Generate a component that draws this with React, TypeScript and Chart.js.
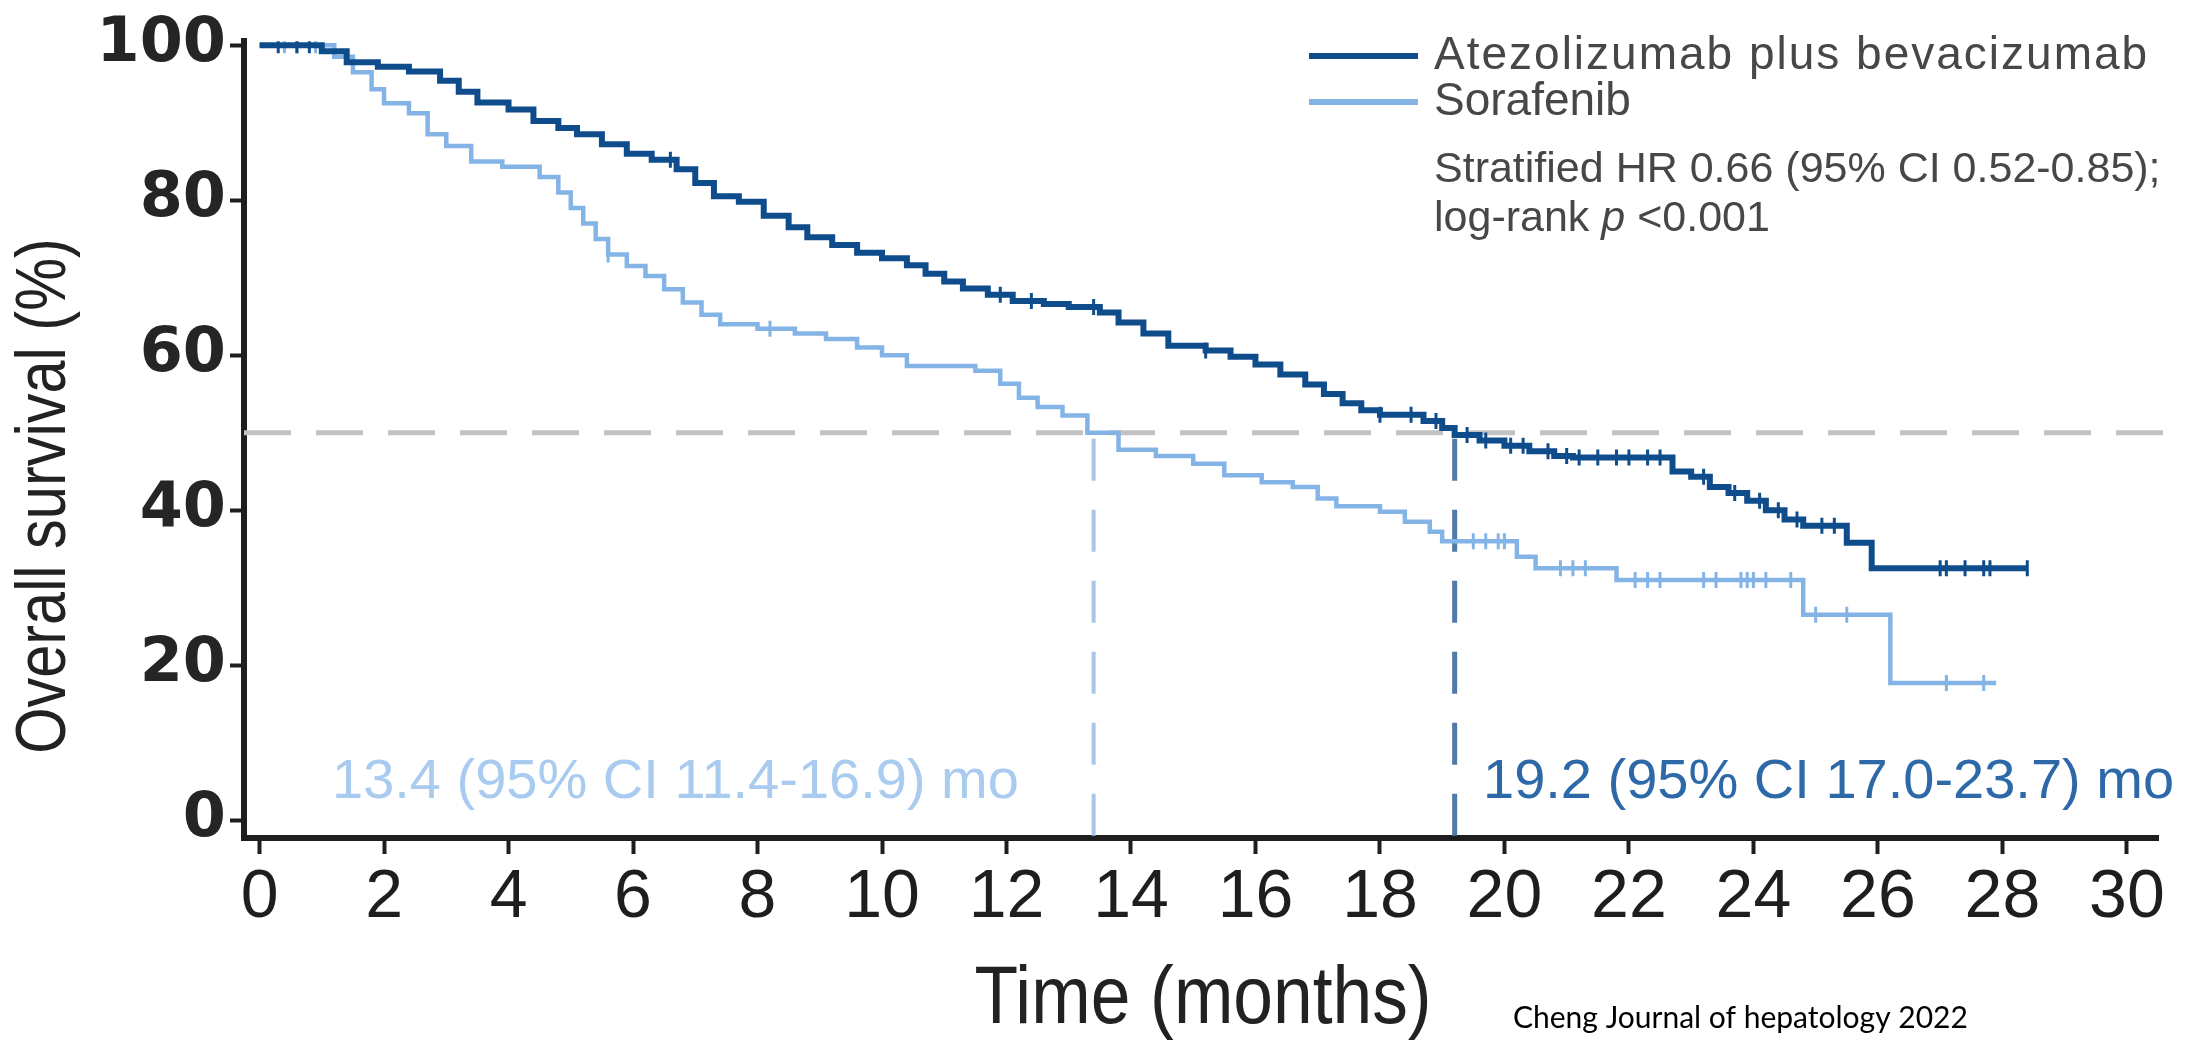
import React, { useEffect, useRef } from "react";
import { Chart, registerables } from "chart.js";

Chart.register(...registerables);

// ---------- data ----------
const xTickValues = [0, 2, 4, 6, 8, 10, 12, 14, 16, 18, 20, 22, 24, 26, 28, 30];
const yTickValues = [0, 20, 40, 60, 80, 100];

const seriesNames = ["Atezolizumab plus bevacizumab", "Sorafenib"];

// Kaplan–Meier step points (time in months, survival in % from that time on)
const atezoTime = [0, 1.0, 1.4, 1.9, 2.4, 2.9, 3.2, 3.5, 4.0, 4.4, 4.8, 5.1, 5.5, 5.9, 6.3, 6.7, 7.0, 7.3, 7.7, 8.1, 8.5, 8.8, 9.2, 9.6, 10.0, 10.4, 10.7, 11.0, 11.3, 11.7, 12.1, 12.6, 13.0, 13.5, 13.8, 14.2, 14.6, 15.2, 15.6, 16.0, 16.4, 16.8, 17.1, 17.4, 17.7, 18.0, 18.7, 19.0, 19.2, 19.6, 20.0, 20.4, 20.8, 21.1, 22.7, 23.0, 23.3, 23.6, 23.9, 24.2, 24.5, 24.8, 25.5, 25.9, 28.4];
const atezoOS = [100, 99.2, 97.8, 97.2, 96.6, 95.4, 94.0, 92.6, 91.7, 90.2, 89.3, 88.5, 87.2, 86.0, 85.2, 84.0, 82.2, 80.5, 79.8, 78.0, 76.5, 75.2, 74.2, 73.2, 72.5, 71.6, 70.5, 69.5, 68.6, 67.8, 67.0, 66.6, 66.2, 65.5, 64.2, 62.8, 61.2, 60.6, 59.8, 58.8, 57.5, 56.2, 55.0, 53.8, 52.9, 52.3, 51.5, 50.6, 49.7, 49.0, 48.3, 47.6, 47.0, 46.8, 45.0, 44.3, 43.0, 42.2, 41.2, 40.0, 38.8, 38.0, 35.8, 32.5, 32.5];

const soraTime = [0, 1.2, 1.5, 1.8, 2.0, 2.4, 2.7, 3.0, 3.4, 3.9, 4.5, 4.8, 5.0, 5.2, 5.4, 5.6, 5.9, 6.2, 6.5, 6.8, 7.1, 7.4, 8.0, 8.6, 9.1, 9.6, 10.0, 10.4, 11.5, 11.9, 12.2, 12.5, 12.9, 13.3, 13.8, 14.4, 15.0, 15.5, 16.1, 16.6, 17.0, 17.3, 18.0, 18.4, 18.8, 19.0, 20.2, 20.5, 21.8, 24.8, 26.2, 27.9];
const soraOS = [100, 98.5, 96.5, 94.3, 92.5, 91.2, 88.5, 87.0, 85.0, 84.3, 83.0, 81.0, 79.0, 77.0, 75.0, 73.0, 71.5, 70.2, 68.5, 66.8, 65.2, 64.0, 63.4, 62.8, 62.1, 61.0, 60.0, 58.6, 58.0, 56.3, 54.5, 53.3, 52.2, 50.0, 47.8, 47.0, 46.0, 44.5, 43.6, 43.0, 41.5, 40.5, 39.8, 38.5, 37.2, 36.0, 34.0, 32.5, 31.0, 26.5, 17.7, 17.7];

// censoring times (months)
const atezoCensor = [0.3, 0.6, 0.8, 6.6, 11.9, 12.4, 13.4, 15.2, 18.0, 18.5, 18.9, 19.4, 19.7, 20.1, 20.3, 20.7, 21.0, 21.2, 21.5, 21.8, 22.0, 22.3, 22.5, 23.2, 23.7, 24.1, 24.4, 24.7, 25.1, 25.3, 27.0, 27.1, 27.4, 27.7, 27.8, 28.4];
const soraCensor = [0.4, 0.6, 0.9, 5.6, 8.2, 19.5, 19.7, 19.9, 20.0, 20.9, 21.1, 21.3, 22.1, 22.3, 22.5, 23.2, 23.4, 23.8, 23.9, 24.0, 24.2, 24.6, 25.0, 25.5, 27.1, 27.7];

// medians
const medianOS = [13.4, 19.2];
const medianLabels = ["13.4 (95% CI 11.4-16.9) mo", "19.2 (95% CI 17.0-23.7) mo"];
const statsText = "Stratified HR 0.66 (95% CI 0.52-0.85);";
const xTitle = "Time (months)";
const yTitle = "Overall survival (%)";
const citation = "Cheng Journal of hepatology 2022";

// ---------- styles ----------
const DARK = "#0f4c8c";
const LIGHT = "#84b4e6";
const AXIS = "#1e1e1e";
const SANS = '"Liberation Sans", Arial, sans-serif';

function survivalAt(times: number[], surv: number[], t: number) {
  let v = surv[0];
  for (let i = 0; i < times.length; i++) if (times[i] <= t) v = surv[i];
  return v;
}

const pairs = (xs: number[], ys: number[]) => xs.map((x, i) => ({ x, y: ys[i] }));

const overlay = {
  id: "overlay",
  beforeDatasetsDraw(chart: any) {
    const { ctx, scales } = chart;
    const x = scales.x, y = scales.y;
    ctx.save();
    ctx.lineWidth = 5;
    ctx.setLineDash([47, 25]);
    ctx.strokeStyle = "#c2c2c2";
    ctx.beginPath();
    ctx.moveTo(x.getPixelForValue(x.min), y.getPixelForValue(50));
    ctx.lineTo(x.getPixelForValue(30.75), y.getPixelForValue(50));
    ctx.stroke();
    const cols = ["#a9c6ea", "#507aa8"];
    const widths = [4, 5];
    ctx.setLineDash([42, 29]);
    medianOS.forEach((m, i) => {
      ctx.strokeStyle = cols[i];
      ctx.lineWidth = widths[i];
      ctx.beginPath();
      ctx.moveTo(x.getPixelForValue(m), y.getPixelForValue(50) + 6);
      ctx.lineTo(x.getPixelForValue(m), y.getPixelForValue(y.min));
      ctx.stroke();
    });
    ctx.restore();
  },
  afterDraw(chart: any) {
    const { ctx } = chart;
    ctx.save();
    // legend
    const lx0 = 1309, lx1 = 1418, tx = 1434;
    ctx.lineWidth = 6;
    ctx.strokeStyle = DARK;
    ctx.beginPath(); ctx.moveTo(lx0, 56); ctx.lineTo(lx1, 56); ctx.stroke();
    ctx.strokeStyle = LIGHT;
    ctx.beginPath(); ctx.moveTo(lx0, 102); ctx.lineTo(lx1, 102); ctx.stroke();
    ctx.fillStyle = "#474747";
    ctx.textBaseline = "middle";
    ctx.textAlign = "left";
    ctx.font = `46px ${SANS}`;
    (ctx as any).letterSpacing = "2px";
    ctx.fillText(seriesNames[0], tx, 56);
    (ctx as any).letterSpacing = "0px";
    ctx.fillText(seriesNames[1], tx, 102);
    ctx.font = `43px ${SANS}`;
    ctx.fillText(statsText, tx, 170);
    let cx = tx;
    const p1 = "log-rank ";
    ctx.fillText(p1, cx, 219);
    cx += ctx.measureText(p1).width;
    ctx.font = `italic 43px ${SANS}`;
    ctx.fillText("p", cx, 219);
    cx += ctx.measureText("p ").width;
    ctx.font = `43px ${SANS}`;
    ctx.fillText("<0.001", cx, 219);

    // median labels
    ctx.font = `56px ${SANS}`;
    ctx.fillStyle = "#a9cbef";
    ctx.fillText(medianLabels[0], 332, 783);
    ctx.fillStyle = "#2d69a8";
    ctx.fillText(medianLabels[1], 1483, 783);

    // axis titles (condensed)
    ctx.fillStyle = "#222";
    ctx.textAlign = "center";
    ctx.save();
    ctx.translate(46, 496);
    ctx.rotate(-Math.PI / 2);
    ctx.scale(0.85, 1);
    ctx.font = `70px ${SANS}`;
    ctx.fillText(yTitle, 0, 0);
    ctx.restore();

    ctx.save();
    ctx.translate(1203, 1000);
    ctx.scale(0.87, 1);
    ctx.font = `82px ${SANS}`;
    ctx.fillText(xTitle, 0, 0);
    ctx.restore();

    // citation
    ctx.textAlign = "left";
    ctx.font = `30px Lato, "Open Sans", sans-serif`;
    ctx.fillStyle = "#000";
    ctx.fillText(citation, 1513, 1018);
    ctx.restore();
  },
};

export default function App() {
  const ref = useRef<HTMLCanvasElement | null>(null);
  useEffect(() => {
    if (!ref.current) return;
    const chart = new Chart(ref.current, {
      type: "line",
      data: {
        datasets: [
          {
            label: seriesNames[0],
            data: pairs(atezoTime, atezoOS),
            borderColor: DARK,
            backgroundColor: DARK,
            borderWidth: 6,
            stepped: "before",
            pointRadius: 0,
            fill: false,
          },
          {
            label: seriesNames[1],
            data: pairs(soraTime, soraOS),
            borderColor: LIGHT,
            backgroundColor: LIGHT,
            borderWidth: 4.5,
            stepped: "before",
            pointRadius: 0,
            fill: false,
          },
          {
            label: seriesNames[0] + " censored",
            data: atezoCensor.map((t) => ({ x: t, y: survivalAt(atezoTime, atezoOS, t) })),
            showLine: false,
            borderColor: DARK,
            backgroundColor: DARK,
            pointStyle: "line",
            rotation: 90,
            pointRadius: 8,
            pointBorderWidth: 3,
          },
          {
            label: seriesNames[1] + " censored",
            data: soraCensor.map((t) => ({ x: t, y: survivalAt(soraTime, soraOS, t) })),
            showLine: false,
            borderColor: LIGHT,
            backgroundColor: LIGHT,
            pointStyle: "line",
            rotation: 90,
            pointRadius: 8,
            pointBorderWidth: 3,
          },
        ],
      },
      options: {
        responsive: false,
        animation: false,
        events: [],
        layout: { padding: { left: 0, right: 32, top: 38, bottom: 0 } },
        plugins: { legend: { display: false }, tooltip: { enabled: false } },
        scales: {
          x: {
            type: "linear",
            min: -0.25,
            max: 30.5,
            afterBuildTicks: (s: any) => { s.ticks = xTickValues.map((v) => ({ value: v })); },
            afterFit: (s: any) => { s.height = 206; },
            border: { display: true, color: AXIS, width: 6 },
            grid: { display: true, drawOnChartArea: false, drawTicks: true, tickLength: 16, tickWidth: 4, tickColor: AXIS },
            ticks: { color: "#1e1e1e", padding: 3, maxRotation: 0, autoSkip: false, font: { family: SANS, size: 68 } },
            title: { display: false },
          },
          y: {
            type: "linear",
            min: -2.3,
            max: 100.51,
            afterBuildTicks: (s: any) => { s.ticks = yTickValues.map((v) => ({ value: v })); },
            afterFit: (s: any) => { s.width = 244; },
            border: { display: true, color: AXIS, width: 6 },
            grid: { display: true, drawOnChartArea: false, drawTicks: true, tickLength: 14, tickWidth: 4, tickColor: AXIS },
            ticks: { color: "#252525", padding: 4, font: { family: '"DejaVu Sans", sans-serif', size: 62, weight: "bold" } },
          },
        },
      },
      plugins: [overlay],
    } as any);
    return () => chart.destroy();
  }, []);
  return (
    <div style={{ position: "absolute", left: 0, top: 0, width: 2190, height: 1044, background: "#fff" }}>
      <canvas ref={ref} width={2190} height={1044} />
    </div>
  );
}
